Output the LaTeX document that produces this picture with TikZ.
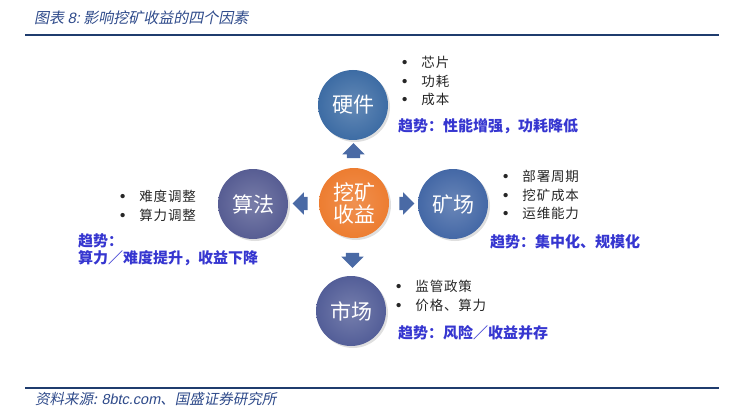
\documentclass[tikz,border=0pt]{standalone}
\usepackage{fontspec}
\setmainfont{Liberation Sans}
\newfontfamily\cjk{Noto Sans CJK SC}
\newfontfamily\cjksp{Noto Sans CJK SC}[LetterSpace=6]
\newfontfamily\cjkit{Noto Sans CJK SC}[FakeSlant=0.2]
\newfontfamily\latit{Liberation Sans}[FakeSlant=0.2]
\newfontfamily\bulfont{Liberation Sans}
\usetikzlibrary{shapes.arrows,shadows,calc}
\definecolor{hdr}{HTML}{1F3C6E}
\definecolor{ttl}{HTML}{2E4A8A}
\definecolor{hwc}{HTML}{3D6CA4}
\definecolor{mfc}{HTML}{4468A6}
\definecolor{alc}{HTML}{575D93}
\definecolor{mkc}{HTML}{535E98}
\definecolor{ctc}{HTML}{ED7D31}
\definecolor{arc}{HTML}{4A6AA5}
\definecolor{trd}{HTML}{3636D0}
\newcommand{\bul}{{\bulfont\bfseries\fontsize{15}{15}\selectfont\textbullet}\hspace{14pt}}
\tikzset{
  factor/.style={circle, minimum size=70pt, inner sep=0pt, text=white,
    font=\cjk\fontsize{21}{24}\selectfont, drop shadow={opacity=0.25, shadow xshift=2pt, shadow yshift=-2pt}},
  blockarrow/.style={single arrow, draw=none, fill=arc, inner xsep=0pt, inner ysep=6.5pt,
    minimum height=15pt, single arrow head extend=4.5pt},
  bullets/.style={align=left, anchor=north west, inner sep=0pt,
    font=\cjksp\fontsize{13.5}{18.7}\selectfont, text=black!85},
  trend/.style={anchor=west, inner sep=0pt, text=trd,
    font=\cjk\bfseries\fontsize{15}{17}\selectfont, align=left},
}
\begin{document}
\begin{tikzpicture}[x=1pt,y=-1pt]
\useasboundingbox (0,0) rectangle (744,417);
% header
\node[anchor=west, inner sep=0pt, text=ttl] (title) at (34,18)
  {\cjkit\fontsize{15}{17}\selectfont 图表 {\latit 8:}\ 影响挖矿收益的四个因素};
\coordinate (h1) at (25,35); \coordinate (h2) at (719,35);
\draw[hdr, line width=1.2pt] (h1) -- (h2);
% footer
\coordinate (f1) at (25,388); \coordinate (f2) at (719,388);
\draw[hdr, line width=2.5pt] (f1) -- (f2);
\node[anchor=west, inner sep=0pt, text=ttl] (src) at (35,399)
  {\cjkit\fontsize{14.5}{16}\selectfont 资料来源: {\latit 8btc.com}、国盛证券研究所};
% circles
\node[factor, shade, inner color=hwc!80!white, outer color=hwc] (hw) at (353,105) {硬件};
\node[factor, shade, inner color=ctc!85!white, outer color=ctc] (ct) at (354,203) {\parbox{44pt}{\centering 挖矿\\[-2pt]收益}};
\node[factor, shade, inner color=mfc!80!white, outer color=mfc] (mf) at (453,204) {矿场};
\node[factor, shade, inner color=alc!80!white, outer color=alc] (al) at (253,204) {算法};
\node[factor, shade, inner color=mkc!80!white, outer color=mkc] (mk) at (351,311) {市场};
% arrows
\node[blockarrow, rotate=90] (aup) at ($(ct.north)!0.5!(hw.south)$) {};
\node[blockarrow] (art) at ($(ct.east)!0.5!(mf.west)$) {};
\node[blockarrow, rotate=-90] (adn) at ($(ct.south)!0.5!(mk.north)$) {};
\node[blockarrow, rotate=180] (alf) at ($(ct.west)!0.5!(al.east)$) {};
% texts
\node[bullets] (hwb) at (402,56) {\bul 芯片\\\bul 功耗\\\bul 成本};
\node[trend] (hwt) at (398,126) {趋势：性能增强，功耗降低};
\node[bullets] (mfb) at (503,170) {\bul 部署周期\\\bul 挖矿成本\\\bul 运维能力};
\node[trend] (mft) at (490,242) {趋势：集中化、规模化};
\node[bullets] (alb) at (120,190) {\bul 难度调整\\\bul 算力调整};
\node[trend, anchor=north west] (alt) at (78,233) {趋势：\\算力／难度提升，收益下降};
\node[bullets] (mkb) at (396,280) {\bul 监管政策\\\bul 价格、算力};
\node[trend] (mkt) at (398,333) {趋势：风险／收益并存};
\end{tikzpicture}
\end{document}
